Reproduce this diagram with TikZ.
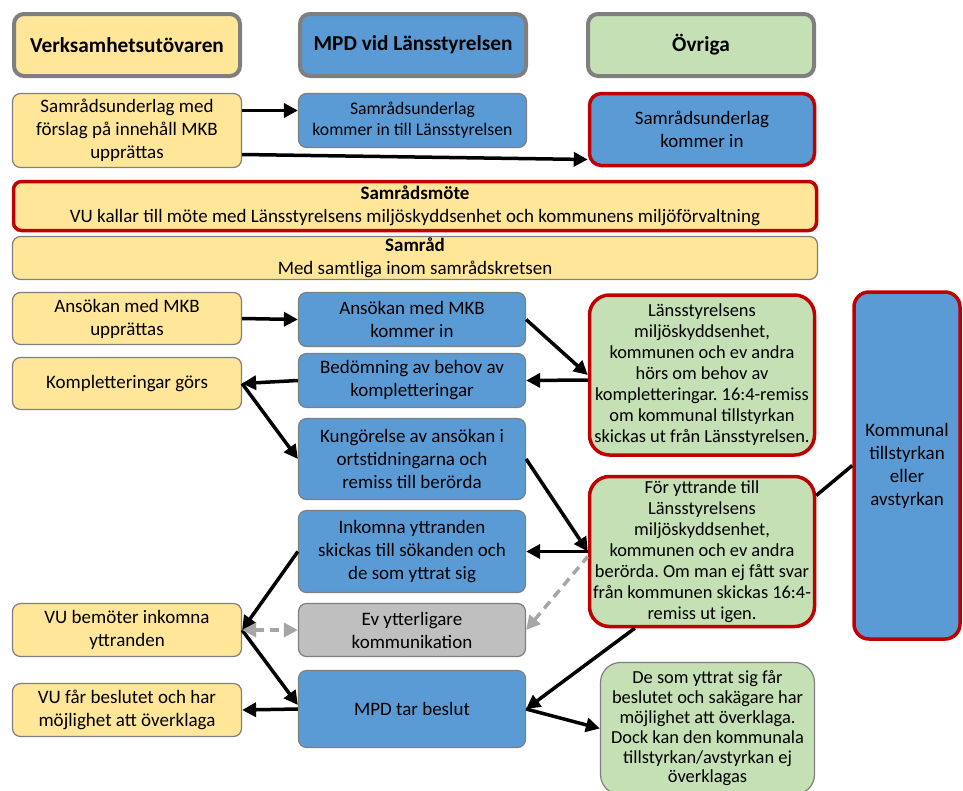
\documentclass[tikz,border=0pt]{standalone}
\usepackage{fontspec}
\setmainfont{Carlito}
\frenchspacing
\usepackage{tikz}
\usetikzlibrary{arrows.meta, positioning}

\definecolor{vugul}{HTML}{FFE699}
\definecolor{mpdbla}{HTML}{5B9BD5}
\definecolor{ovgron}{HTML}{C5E0B4}
\definecolor{kant}{HTML}{7F7F7F}
\definecolor{rodkant}{HTML}{C00000}
\definecolor{evgra}{HTML}{BFBFBF}
\definecolor{streck}{HTML}{A6A6A6}

\begin{document}
\begin{tikzpicture}[x=1pt, y=-1pt, ->, >={Triangle[length=14pt, width=14pt]}, line width=3.5pt,
    box/.style={draw=kant, line width=1.2pt, rounded corners=8pt, align=center,
        inner sep=1pt, font=\fontsize{19}{23}\selectfont},
    vu/.style={box, fill=vugul},
    mpd/.style={box, fill=mpdbla},
    ov/.style={box, fill=ovgron, rounded corners=20pt},
    rod/.style={draw=rodkant, line width=3.5pt},
    tat/.style={font=\fontsize{18.4}{21}\selectfont},
    rubrik/.style={draw=kant, line width=4pt, rounded corners=10pt,
        minimum width=226pt, minimum height=62pt,
        font=\fontsize{21.3}{25}\bfseries\selectfont},
    streckpil/.style={<->, draw=streck, dash pattern=on 9pt off 6pt}
]
    \useasboundingbox (0,0) rectangle (963,790);

    % kolumnrubriker
    \node[rubrik, fill=vugul]  (hVU)  at (127,45) {Verksamhetsutövaren};
    \node[rubrik, fill=mpdbla] (hMPD) at (413,45) {MPD vid Länsstyrelsen};
    \node[rubrik, fill=ovgron] (hOv)  at (701,45) {Övriga};

    % samrådsunderlag
    \node[vu, minimum width=229pt, minimum height=74pt] (vuUnder) at (127,130.5)
        {Samrådsunderlag med\\förslag på innehåll MKB\\upprättas};
    \node[mpd, minimum width=228pt, minimum height=54pt,
          font=\fontsize{17.7}{21}\selectfont] (mpdUnder) at (412.5,120.5)
        {Samrådsunderlag\\kommer in till Länsstyrelsen};
    \node[mpd, rod, rounded corners=12pt, minimum width=225pt, minimum height=72pt] (ovUnder) at (702,129.5)
        {Samrådsunderlag\\kommer in};

    % samråd
    \node[vu, rod, minimum width=803pt, minimum height=49pt] (mote) at (415,206)
        {\textbf{Samrådsmöte}\\VU kallar till möte med Länsstyrelsens miljöskyddsenhet och kommunens miljöförvaltning};
    \node[vu, minimum width=805pt, minimum height=43pt] (samrad) at (415,258)
        {\textbf{Samråd}\\Med samtliga inom samrådskretsen};

    % ansökan
    \node[vu, minimum width=229pt, minimum height=52pt] (vuAns) at (127,318.5)
        {Ansökan med MKB\\upprättas};
    \node[mpd, minimum width=227pt, minimum height=54pt] (mpdAns) at (412,319.5)
        {Ansökan med MKB\\kommer in};
    \node[vu, minimum width=229pt, minimum height=52pt] (vuKompl) at (127,383.5)
        {Kompletteringar görs};
    \node[mpd, minimum width=227pt, minimum height=54pt] (mpdBed) at (412,380.5)
        {Bedömning av behov av\\kompletteringar};
    \node[mpd, minimum width=227pt, minimum height=81pt] (mpdKung) at (412,459)
        {Kungörelse av ansökan i\\ortstidningarna och\\remiss till berörda};
    \node[ov, rod, tat, minimum width=225pt, minimum height=160pt] (ovHors) at (702,375)
        {Länsstyrelsens\\miljöskyddsenhet,\\kommunen och ev andra\\hörs om behov av\\kompletteringar. 16:4-remiss\\om kommunal tillstyrkan\\skickas ut från Länsstyrelsen.};
    \node[ov, rod, tat, minimum width=225pt, minimum height=150pt] (ovYttr) at (702,551.5)
        {För yttrande till\\Länsstyrelsens\\miljöskyddsenhet,\\kommunen och ev andra\\berörda. Om man ej fått svar\\från kommunen skickas 16:4-\\remiss ut igen.};
    \node[mpd, rod, rounded corners=15pt, minimum width=106pt, minimum height=347pt] (kommunal) at (907,465.5)
        {Kommunal\\tillstyrkan\\eller\\avstyrkan};

    % yttranden och beslut
    \node[mpd, minimum width=227pt, minimum height=82pt] (mpdInk) at (412,551.5)
        {Inkomna yttranden\\skickas till sökanden och\\de som yttrat sig};
    \node[vu, minimum width=229pt, minimum height=53pt] (vuBem) at (127,630)
        {VU bemöter inkomna\\yttranden};
    \node[box, fill=evgra, minimum width=227pt, minimum height=53pt] (mpdEv) at (412,630)
        {Ev ytterligare\\kommunikation};
    \node[vu, minimum width=229pt, minimum height=53pt] (vuBes) at (127,710)
        {VU får beslutet och har\\möjlighet att överklaga};
    \node[mpd, minimum width=227pt, minimum height=77pt] (mpdBes) at (412,709)
        {MPD tar beslut};
    \node[ov, draw=kant, minimum width=214pt, minimum height=132pt,
          font=\fontsize{18.4}{19.8}\selectfont] (ovDe) at (707.5,728.5)
        {De som yttrat sig får\\beslutet och sakägare har\\möjlighet att överklaga.\\Dock kan den kommunala\\tillstyrkan/avstyrkan ej\\överklagas};

    \path   ([yshift=20pt]vuUnder.east) edge ([yshift=20pt]vuUnder.east -| mpdUnder.west)
            ([yshift=-24pt]vuUnder.east) edge ([yshift=-30pt]ovUnder.west)
            (vuAns.east) edge (mpdAns.west)
            (mpdAns.east) edge (ovHors.west)
            ([yshift=-5pt]ovHors.west) edge (mpdBed.east)
            (mpdBed.west) edge (vuKompl.east)
            (vuKompl.east) edge (mpdKung.west)
            (mpdKung.east) edge (ovYttr.west)
            (ovYttr.west) edge (mpdInk.east)
            (mpdInk.west) edge (vuBem.east)
            (vuBem.east) edge ([yshift=4pt]mpdBes.west)
            ([xshift=47pt]ovYttr.south west) edge (mpdBes.east)
            (mpdBes.east) edge (ovDe.west)
            (mpdBes.west) edge (vuBes.east)
    ;
    \draw[-] ([yshift=56pt]ovYttr.east) -- (kommunal.west);
    \draw[streckpil] (vuBem.east) -- (mpdEv.west);
    \draw[streckpil, <-] (mpdEv.east) -- ([yshift=-5pt]ovYttr.west);
\end{tikzpicture}
\end{document}
